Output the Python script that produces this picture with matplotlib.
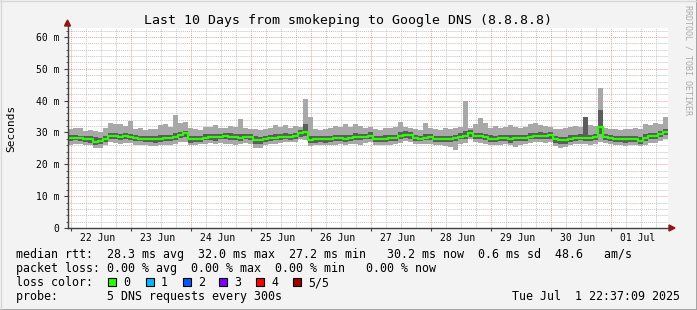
import numpy as np
import matplotlib
matplotlib.use("Agg")
import matplotlib.pyplot as plt
from matplotlib.patches import Rectangle, Polygon
from matplotlib.lines import Line2D

W, H = 697, 310

# ---------------- data (ms), 120 bins of 2 hours, last 10 days ----------------
median = [28.3, 28.4, 28.2, 28.0, 27.8, 27.1, 27.2, 27.9, 28.9, 28.8, 28.6, 28.8,
          28.6, 28.3, 28.1, 28.0, 27.9, 27.8, 28.1, 28.2, 28.3, 28.6, 29.2, 29.8,
          27.8, 27.9, 28.0, 28.4, 28.6, 28.5, 28.7, 28.8, 28.7, 28.5, 28.4, 28.7,
          28.6, 27.6, 27.5, 27.9, 28.2, 28.4, 28.6, 28.7, 28.5, 28.8, 29.7, 30.1,
          27.7, 27.8, 27.9, 27.8, 28.0, 28.2, 28.3, 28.1, 28.3, 28.6, 28.5, 28.7,
          29.0, 28.0, 27.9, 28.1, 28.2, 28.3, 28.9, 29.3, 29.1, 28.2, 28.1, 28.4,
          28.5, 27.9, 28.0, 27.9, 28.1, 28.2, 28.7, 29.0, 29.7, 28.9, 28.8, 28.5,
          28.1, 28.0, 28.2, 28.2, 28.1, 28.3, 28.2, 28.3, 28.7, 28.9, 29.0, 28.8,
          29.1, 27.9, 27.6, 27.6, 28.1, 28.2, 28.4, 28.3, 28.3, 28.5, 31.7, 28.6,
          28.3, 28.0, 27.9, 27.8, 28.0, 27.9, 27.3, 28.4, 28.8, 28.9, 29.6, 30.2]

smoke_lo = [26.0, 26.5, 26.3, 26.0, 26.0, 25.0, 25.2, 26.0, 27.0, 26.8, 26.5, 26.8,
            26.8, 26.0, 26.2, 26.0, 25.6, 25.8, 26.0, 26.2, 26.0, 26.5, 27.0, 27.0,
            26.0, 26.0, 26.3, 26.5, 26.7, 26.4, 26.8, 26.5, 26.3, 26.0, 26.5, 26.6,
            26.3, 25.0, 25.2, 26.0, 26.4, 26.5, 26.8, 27.0, 27.0, 27.0, 28.0, 27.5,
            25.8, 26.0, 26.1, 26.0, 26.2, 26.0, 26.4, 26.0, 26.3, 26.5, 26.2, 26.6,
            27.0, 26.0, 26.2, 26.0, 26.1, 26.3, 26.8, 27.3, 27.0, 26.3, 26.5, 26.5,
            26.4, 26.0, 26.0, 25.9, 25.5, 24.6, 26.5, 26.8, 27.8, 27.0, 26.8, 26.5,
            26.2, 26.0, 26.1, 26.3, 26.0, 25.5, 26.2, 26.4, 26.8, 27.0, 27.0, 26.8,
            27.0, 25.8, 25.0, 25.3, 26.0, 26.3, 26.5, 26.4, 26.0, 26.3, 27.0, 26.8,
            26.3, 26.0, 26.0, 25.8, 26.0, 26.2, 25.8, 26.0, 26.6, 26.8, 27.3, 28.0]

smoke_hi = [31.0, 31.5, 31.4, 30.5, 30.8, 30.5, 30.2, 31.5, 33.0, 32.5, 32.8, 32.0,
            33.5, 31.0, 31.3, 30.8, 31.2, 31.0, 32.2, 32.5, 31.8, 35.5, 33.0, 33.4,
            31.5, 31.2, 30.8, 31.6, 31.8, 32.3, 31.5, 31.3, 32.0, 31.8, 34.2, 31.5,
            31.0, 31.2, 30.8, 31.0, 31.3, 32.2, 31.8, 32.3, 31.5, 32.0, 31.8, 40.5,
            35.0, 31.2, 30.8, 31.0, 31.4, 32.0, 31.8, 32.6, 31.7, 32.8, 32.0, 31.5,
            31.6, 31.0, 30.8, 31.3, 31.5, 31.8, 33.2, 31.6, 31.4, 31.0, 30.8, 33.0,
            31.5, 31.2, 30.9, 31.4, 31.0, 31.3, 31.8, 40.0, 31.5, 32.5, 34.4, 33.0,
            31.5, 32.0, 31.4, 31.8, 32.3, 31.6, 31.4, 31.8, 32.6, 33.0, 32.4, 32.0,
            31.6, 31.2, 31.0, 31.4, 31.6, 32.0, 31.8, 35.0, 32.3, 32.0, 44.0, 31.5,
            31.2, 31.0, 30.8, 31.2, 31.0, 31.5, 31.0, 32.6, 32.4, 33.0, 32.5, 35.0]

inner_lo = [27.4, 27.6, 27.3, 27.0, 26.8, 26.0, 26.3, 27.0, 27.9, 27.8, 27.6, 27.9,
            27.7, 27.3, 27.2, 27.1, 26.9, 26.8, 27.0, 27.3, 27.4, 27.6, 28.2, 28.6,
            26.8, 26.9, 27.1, 27.5, 27.7, 27.4, 27.8, 27.9, 27.6, 27.5, 27.4, 27.8,
            27.7, 26.3, 26.4, 26.9, 27.3, 27.5, 27.7, 27.8, 27.6, 27.9, 28.6, 29.0,
            26.6, 26.8, 26.9, 26.7, 27.0, 27.2, 27.4, 27.1, 27.3, 27.6, 27.5, 27.8,
            28.1, 27.0, 26.9, 27.1, 27.3, 27.4, 27.9, 28.3, 28.1, 27.2, 27.2, 27.5,
            27.6, 26.9, 27.0, 26.9, 27.1, 27.2, 27.8, 28.0, 28.7, 28.0, 27.9, 27.5,
            27.1, 27.0, 27.2, 27.3, 26.8, 27.2, 27.3, 27.4, 27.8, 28.0, 28.1, 27.9,
            28.1, 26.8, 26.3, 26.5, 27.1, 27.3, 27.5, 27.4, 27.3, 27.5, 29.5, 27.7,
            27.3, 27.0, 26.9, 26.7, 27.0, 27.0, 26.4, 27.4, 27.9, 28.0, 28.6, 29.3]

inner_hi = [29.2, 29.3, 29.0, 28.9, 28.9, 28.5, 28.4, 28.8, 29.9, 29.8, 29.6, 29.7,
            29.6, 29.2, 29.0, 28.9, 28.9, 28.8, 29.2, 29.3, 29.2, 29.8, 30.3, 30.6,
            28.9, 28.8, 28.9, 29.4, 29.6, 29.5, 29.6, 29.8, 29.7, 29.4, 29.6, 29.6,
            29.6, 28.8, 28.6, 28.9, 29.1, 29.4, 29.5, 29.8, 29.4, 29.8, 30.8, 32.5,
            28.8, 28.8, 28.8, 28.8, 29.0, 29.2, 29.3, 29.1, 29.2, 29.7, 29.4, 29.6,
            30.0, 29.0, 28.8, 29.1, 29.2, 29.2, 30.0, 30.5, 30.0, 29.1, 29.0, 29.5,
            29.5, 28.9, 28.9, 28.9, 29.0, 29.2, 29.7, 30.5, 30.8, 29.9, 29.8, 29.4,
            29.1, 29.0, 29.1, 29.2, 29.1, 29.3, 29.1, 29.2, 29.7, 29.9, 30.0, 29.7,
            30.1, 28.9, 28.7, 28.7, 29.1, 29.2, 29.4, 35.0, 29.3, 29.5, 37.0, 29.6,
            29.2, 29.0, 28.8, 28.8, 29.0, 28.9, 28.5, 29.5, 29.8, 29.9, 30.6, 31.2]

day_labels = ["22 Jun", "23 Jun", "24 Jun", "25 Jun", "26 Jun",
              "27 Jun", "28 Jun", "29 Jun", "30 Jun", "01 Jul"]
y_ticks = [0, 10, 20, 30, 40, 50, 60]
y_tick_labels = ["0", "10 m", "20 m", "30 m", "40 m", "50 m", "60 m"]

loss_labels = ["0", "1", "2", "3", "4", "5/5"]
loss_colors = ["#26ff00", "#00b8ff", "#0059ff", "#7e00ff", "#ff0000", "#a10000"]

title = "Last 10 Days from smokeping to Google DNS (8.8.8.8)"
legend_rows = [
    "median rtt:  28.3 ms avg  32.0 ms max  27.2 ms min   30.2 ms now  0.6 ms sd  48.6   am/s",
    "packet loss: 0.00 % avg  0.00 % max  0.00 % min   0.00 % now",
    "loss color:",
    "probe:       5 DNS requests every 300s",
]
stamp = "Tue Jul  1 22:37:09 2025"

# ---------------- figure ----------------
plt.rcParams['font.family'] = ['DejaVu Sans Mono']
BG = '#f3f3f3'
fig = plt.figure(figsize=(W / 100, H / 100), dpi=100)
fig.patch.set_facecolor(BG)

ax = fig.add_axes([68 / W, 1 - 228 / H, 600 / W, 200 / H])
ax.set_facecolor('#ffffff')

t_end = 9 + (22 + 37 / 60) / 24          # days since 22 Jun 00:00
t_start = t_end - 10
n = len(median)
edges = t_start + np.arange(n + 1) * (10 / n)

def ext(v):
    v = np.asarray(v, dtype=float)
    return np.append(v, v[-1])

ax.set_xlim(t_start, t_end)
ax.set_ylim(0, 62.8)

# grid
for yy in np.arange(2, 63, 2):
    if yy % 10 == 0:
        continue
    ax.axhline(yy, color='#c4c4c4', lw=0.7, ls=(0, (1, 1)), zorder=0)
for xx in np.arange(0, 10, 0.25):
    if abs(xx - round(xx)) < 1e-9:
        continue
    ax.axvline(xx, color='#c4c4c4', lw=0.7, ls=(0, (1, 1)), zorder=0)
for yy in range(10, 61, 10):
    ax.axhline(yy, color='#e8a0a0', lw=0.7, ls=(0, (1, 1)), zorder=0.5)
for xx in range(0, 10):
    ax.axvline(xx, color='#e8a0a0', lw=0.7, ls=(0, (1, 1)), zorder=0.5)

# smoke
ax.fill_between(edges, ext(smoke_lo), ext(smoke_hi), step='post',
                color='#a8a8a8', lw=0, zorder=2)
ax.fill_between(edges, ext(inner_lo), ext(inner_hi), step='post',
                color='#5c5c5c', lw=0, zorder=3)
ax.step(edges, ext(median), where='post', color='#26ff00', lw=1.6, zorder=4)

# axes styling
for s in ax.spines.values():
    s.set_visible(False)
ax.set_yticks(y_ticks)
ax.set_yticklabels(y_tick_labels, fontsize=7)
ax.set_yticks(np.arange(0, 63, 2), minor=True)
ax.tick_params(axis='y', which='major', length=3, width=0.8, pad=3, color='#404040')
ax.tick_params(axis='y', which='minor', length=1.5, width=0.6, color='#404040')
ax.set_xticks(range(0, 10))
ax.set_xticklabels([])
ax.tick_params(axis='x', which='major', length=2, width=0.8, color='#404040')
for i, lab in enumerate(day_labels):
    ax.text(i + 0.44, -0.065, lab, transform=ax.get_xaxis_transform(),
            ha='center', va='baseline', fontsize=7)

# axis lines + arrows
def fx(x):
    return x / W
def fy(y):
    return 1 - y / H

fig.add_artist(Line2D([fx(67.5), fx(67.5)], [fy(228), fy(24)], color='#404040', lw=1))
fig.add_artist(Line2D([fx(67.5), fx(670)], [fy(228), fy(228)], color='#404040', lw=1))
fig.add_artist(Polygon([[fx(64.5), fy(26)], [fx(70.5), fy(26)], [fx(67.5), fy(20)]],
                       closed=True, color='#9a1010', transform=fig.transFigure))
fig.add_artist(Polygon([[fx(669), fy(225)], [fx(669), fy(231)], [fx(675), fy(228)]],
                       closed=True, color='#9a1010', transform=fig.transFigure))

# title, y label, vertical credit
fig.text(fx(348), fy(24), title, ha='center', va='baseline', fontsize=9.5)
fig.text(fx(11), fy(128), "Seconds", ha='center', va='center', rotation=90, fontsize=8)
fig.text(fx(688), fy(5), "RRDTOOL / TOBI OETIKER", ha='center', va='top',
         rotation=270, fontsize=6, color='#aaaaaa')

# legend
baselines = [258, 272, 286, 300]
for row, yb in zip(legend_rows, baselines):
    fig.text(fx(16), fy(yb), row, ha='left', va='baseline', fontsize=8.4)
box_x = [108, 146, 183, 219, 256, 293]
for bx, lab, col in zip(box_x, loss_labels, loss_colors):
    fig.add_artist(Rectangle((fx(bx), fy(286)), 8 / W, 8 / H, transform=fig.transFigure,
                             facecolor=col, edgecolor='black', lw=0.8))
    fig.text(fx(bx + 15), fy(286), lab, ha='left', va='baseline', fontsize=8.4)
fig.text(fx(680), fy(300), stamp, ha='right', va='baseline', fontsize=8.4)

# frame
fig.add_artist(Line2D([0, 1], [fy(309.5), fy(309.5)], color='#9c9c9c', lw=2))
fig.add_artist(Line2D([fx(696.5), fx(696.5)], [0, 1], color='#9c9c9c', lw=2))
fig.add_artist(Line2D([0, 1], [fy(0.5), fy(0.5)], color='#d8d8d8', lw=1))
fig.add_artist(Line2D([fx(0.5), fx(0.5)], [0, 1], color='#d8d8d8', lw=1))

fig.savefig("out.png", dpi=100, facecolor=BG)
